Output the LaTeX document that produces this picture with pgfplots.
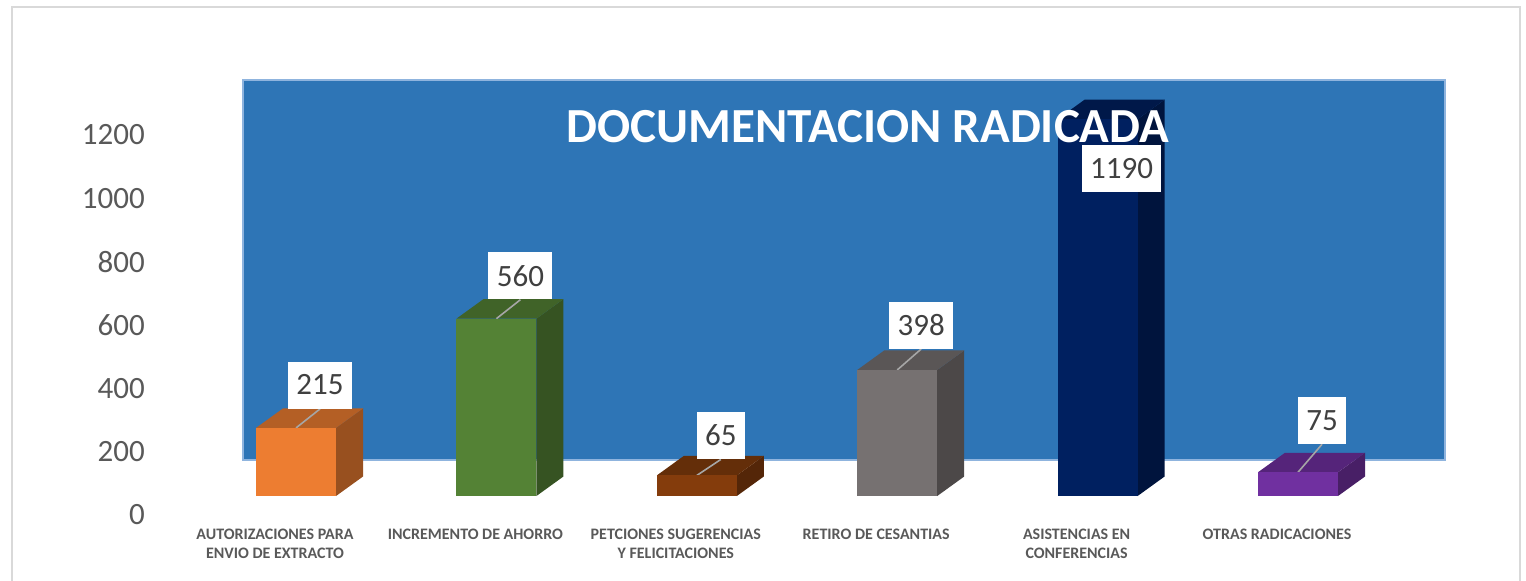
\documentclass[border=0pt]{standalone}
\usepackage{fontspec}
\setmainfont{Carlito}
\usepackage{pgfplots}
\usepackage{pgfplotstable}
\pgfplotsset{compat=1.18}

\definecolor{wall}{HTML}{2E75B6}
\definecolor{walledge}{HTML}{8FB4DE}
\definecolor{framegray}{HTML}{D9D9D9}
\definecolor{tickgray}{HTML}{595959}
\definecolor{labtxt}{HTML}{404040}
\definecolor{leader}{HTML}{A6A6A6}
% front / top / side colours of the six boxes
\definecolor{c0F}{HTML}{ED7D31}\definecolor{c0T}{HTML}{B45F25}\definecolor{c0S}{HTML}{98501F}
\definecolor{c1F}{HTML}{548235}\definecolor{c1T}{HTML}{406328}\definecolor{c1S}{HTML}{365322}
\definecolor{c2F}{HTML}{843C0C}\definecolor{c2T}{HTML}{642E09}\definecolor{c2S}{HTML}{542608}
\definecolor{c3F}{HTML}{767171}\definecolor{c3T}{HTML}{5A5656}\definecolor{c3S}{HTML}{4C4848}
\definecolor{c4F}{HTML}{002060}\definecolor{c4T}{HTML}{001849}\definecolor{c4S}{HTML}{00143D}
\definecolor{c5F}{HTML}{7030A0}\definecolor{c5T}{HTML}{55247A}\definecolor{c5S}{HTML}{481F66}

\tikzset{labbox/.style={fill=white, text=labtxt, font=\fontsize{15.5}{18}\selectfont,
  inner xsep=4.2pt, inner ysep=0pt, minimum height=23.5pt, anchor=south, xshift=12pt},
  lab0/.style={yshift=9.5pt}, lab1/.style={yshift=9.5pt}, lab2/.style={yshift=8pt},
  lab3/.style={yshift=10.5pt}, lab4/.style={yshift=-36.75pt}, lab5/.style={yshift=14pt}}

% the six values
\pgfplotstableread{
x y
0 215
1 560
2 65
3 398
4 1190
5 75
}\datatable

% helper corner flags for the 3-D faces and the leader lines
\pgfplotstableread{
p q
0 0
1 0
1 1
0 1
}\quadtab
\pgfplotstableread{
p q
0 0
1 1
}\segtab

\begin{document}
\begin{tikzpicture}
\useasboundingbox (0,0) rectangle (763pt,-290pt);
\draw[framegray, line width=1pt] (6pt,-3.5pt) rectangle (760pt,-320pt);
\begin{axis}[
  at={(121.5pt,-248pt)}, anchor=south west,
  scale only axis, width=601pt, height=208pt,
  xmin=-0.2645, xmax=5.7335, ymin=0, ymax=1313.7,
  clip=false,
  axis lines=left, axis line style={draw=none,-},
  tick style={draw=none},
  xtick={0,...,5},
  xticklabels={{AUTORIZACIONES PARA\\ENVIO DE EXTRACTO},{INCREMENTO DE AHORRO},{PETCIONES SUGERENCIAS\\Y FELICITACIONES},{RETIRO DE CESANTIAS},{ASISTENCIAS EN\\CONFERENCIAS},{OTRAS RADICACIONES}},
  ytick={0,200,...,1200},
  /pgf/number format/1000 sep={},
  /pgf/number format/assume math mode=true,
  yticklabel style={font=\fontsize{15.5}{18}\selectfont, text=tickgray, anchor=east, inner sep=0pt, xshift=-46.75pt, yshift=-9.5pt},
  xticklabel style={font=\fontsize{8}{9.5}\selectfont\bfseries, text=tickgray, align=center, anchor=north, inner sep=0pt, xshift=-10.5pt, yshift=-14pt},
  title={DOCUMENTACION RADICADA},
  title style={at={(0.52,0.822)}, anchor=base, inner sep=0pt, font=\fontsize{24.5}{28}\selectfont\bfseries, text=white},
]
\fill[wall, draw=walledge, line width=0.7pt] (rel axis cs:0,0.0865) rectangle (rel axis cs:1,1);
\pgfplotsinvokeforeach{0,...,5}{
  \pgfplotstablegetelem{#1}{y}\of\datatable
  \let\barval\pgfplotsretval
  \edef\lyu{\ifcase#1 60\or 60\or 50.5\or 66.3\or 0\or 88.4\fi}
  % side face
  \addplot[fill=c#1S, draw=none] table[x expr=#1+0.1996+\thisrow{p}*0.1347, y expr=\thisrow{q}*\barval+\thisrow{p}*61.58]{\quadtab};
  % top face
  \addplot[fill=c#1T, draw=none] table[x expr=#1-0.1996+\thisrow{p}*0.3992+\thisrow{q}*0.1347, y expr=\barval+\thisrow{q}*61.58]{\quadtab};
  % leader line
  \ifnum#1=4 \else
  \addplot[leader, line width=0.8pt] table[x expr=#1+\thisrow{p}*0.1198, y expr=\barval+\thisrow{q}*\lyu]{\segtab};
  \fi
  % front face with its value label
  \addplot[ybar, bar width=40pt, bar shift=0pt, fill=c#1F, draw=none, restrict x to domain=#1:#1,
    nodes near coords, every node near coord/.append style={labbox, lab#1}] table[x=x,y=y]{\datatable};
}
\end{axis}
\end{tikzpicture}
\end{document}
